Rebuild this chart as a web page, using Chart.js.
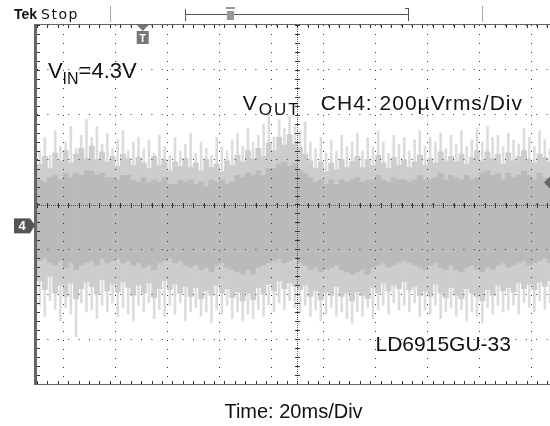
<!DOCTYPE html>
<html>
<head>
<meta charset="utf-8">
<script src="https://cdn.jsdelivr.net/npm/chart.js@4.4.0/dist/chart.umd.min.js"></script>
<style>
  html, body { margin: 0; padding: 0; background: #fff; }
  #wrap { width: 550px; height: 426px; }
</style>
</head>
<body>
<div id="wrap"><canvas id="scope"></canvas></div>
<script>
// column centres in ms (2 ms per column, 20 ms/div)
const timeMs = [
  1, 3, 5, 7, 9, 11, 13, 15, 17, 19,
  21, 23, 25, 27, 29, 31, 33, 35, 37, 39,
  41, 43, 45, 47, 49, 51, 53, 55, 57, 59,
  61, 63, 65, 67, 69, 71, 73, 75, 77, 79,
  81, 83, 85, 87, 89, 91, 93, 95, 97, 99,
  101, 103, 105, 107, 109, 111, 113, 115, 117, 119,
  121, 123, 125, 127, 129, 131, 133, 135, 137, 139,
  141, 143, 145, 147, 149, 151, 153, 155, 157, 159,
  161, 163, 165, 167, 169, 171, 173, 175, 177, 179,
  181, 183, 185, 187, 189, 191, 193, 195, 197
];

// noise envelope, uV (200 uV/div)
const peakHigh = [
  240, 300, 220, 330, 260, 280, 350, 250, 310, 380,
  300, 350, 270, 320, 250, 290, 330, 240, 280, 300,
  250, 290, 230, 310, 260, 220, 300, 240, 270, 320,
  230, 280, 250, 220, 300, 260, 240, 290, 320, 260,
  340, 280, 310, 360, 420, 300, 380, 340, 400, 350,
  330, 370, 280, 250, 300, 230, 290, 240, 310, 260,
  280, 320, 240, 300, 260, 330, 280, 230, 310, 270,
  300, 240, 290, 330, 260, 300, 280, 320, 250, 310,
  270, 330, 260, 290, 340, 280, 350, 300, 310, 260,
  320, 290, 270, 340, 300, 260, 330, 290, 250
];
const peakLow = [
  -450, -500, -430, -470, -520, -460, -490, -590, -440, -480,
  -470, -510, -450, -480, -440, -500, -460, -490, -520, -450,
  -480, -440, -510, -470, -500, -450, -490, -440, -520, -480,
  -460, -500, -480, -530, -470, -490, -450, -510, -480, -520,
  -490, -510, -470, -500, -450, -480, -440, -470, -430, -460,
  -480, -450, -500, -470, -520, -490, -460, -500, -480, -510,
  -530, -480, -500, -460, -510, -470, -450, -490, -440, -470,
  -450, -480, -440, -500, -470, -490, -450, -510, -480, -460,
  -500, -470, -520, -480, -500, -530, -460, -490, -450, -480,
  -470, -450, -490, -440, -460, -480, -430, -470, -440
];
const bandHigh = [
  180, 215, 160, 230, 195, 240, 185, 225, 250, 205,
  260, 200, 235, 190, 215, 170, 225, 205, 175, 210,
  185, 160, 215, 175, 200, 150, 190, 170, 205, 165,
  185, 150, 200, 165, 180, 145, 195, 175, 220, 190,
  240, 205, 250, 215, 275, 240, 300, 265, 310, 270,
  255, 225, 195, 160, 190, 145, 185, 155, 200, 165,
  190, 215, 165, 200, 175, 220, 185, 160, 210, 175,
  200, 165, 190, 220, 175, 205, 185, 235, 195, 215,
  190, 225, 180, 210, 240, 195, 235, 205, 225, 180,
  230, 195, 215, 240, 200, 185, 225, 210, 190
];
const bandLow = [
  -340, -380, -320, -395, -360, -410, -350, -420, -375, -345,
  -365, -400, -335, -385, -355, -390, -345, -370, -405, -360,
  -395, -350, -415, -375, -340, -380, -355, -395, -365, -410,
  -370, -420, -385, -405, -360, -395, -375, -415, -390, -430,
  -395, -425, -370, -400, -355, -385, -340, -375, -350, -365,
  -380, -360, -410, -385, -425, -390, -405, -365, -410, -395,
  -430, -390, -405, -420, -370, -395, -350, -385, -360, -375,
  -345, -380, -365, -405, -385, -410, -355, -395, -415, -370,
  -405, -420, -375, -395, -410, -430, -380, -405, -360, -385,
  -370, -390, -350, -375, -355, -380, -345, -365, -340
];
const coreHigh = [
  110, 100, 120, 130, 110, 140, 120, 140, 130, 150,
  150, 130, 140, 120, 120, 110, 130, 130, 110, 100,
  120, 100, 110, 100, 120, 90, 90, 110, 100, 110,
  90, 100, 80, 110, 100, 110, 90, 100, 130, 120,
  140, 130, 150, 130, 160, 160, 180, 190, 170, 180,
  150, 140, 120, 100, 110, 90, 110, 90, 110, 100,
  110, 120, 100, 110, 110, 130, 110, 100, 120, 110,
  110, 100, 110, 130, 110, 110, 120, 140, 110, 130,
  120, 110, 130, 110, 120, 140, 150, 130, 140, 110,
  140, 120, 130, 150, 130, 110, 140, 120, 110
];
const coreLow = [
  -250, -240, -260, -270, -250, -280, -260, -290, -270, -260,
  -250, -270, -240, -260, -250, -240, -260, -250, -270, -260,
  -280, -270, -290, -260, -250, -240, -260, -250, -270, -280,
  -270, -290, -280, -300, -270, -260, -280, -290, -300, -310,
  -290, -310, -280, -270, -260, -250, -240, -260, -250, -240,
  -260, -270, -290, -280, -300, -290, -280, -270, -290, -300,
  -310, -300, -290, -310, -280, -270, -260, -280, -270, -260,
  -250, -260, -270, -280, -290, -270, -260, -280, -290, -270,
  -290, -300, -280, -270, -290, -300, -280, -290, -270, -260,
  -280, -270, -260, -250, -270, -260, -250, -240, -260
];

// markers and notes (ms, uV)
const triggerMs = 40.6;
const ch4GroundUv = -93;
const trigLevelUv = 98;

const FONT = '"Liberation Sans", Arial, sans-serif';

function pairs(lo, hi) {
  return timeMs.map(function(t, i) {
    return { x: t, y: [lo[i], hi[i]] };
  });
}

const scopeDecor = {
  id: 'scope_decor',
  afterDraw: (chart) => {
    const ctx = chart.ctx;
    const area = chart.chartArea;
    const xs = chart.scales.x;
    const ys = chart.scales.y;
    const cx = Math.round(xs.getPixelForValue(100)) + 0.5;
    const cy = Math.round(ys.getPixelForValue(0)) + 0.5;
    const minorX = xs.getPixelForValue(4) - xs.getPixelForValue(0);
    const minorY = ys.getPixelForValue(0) - ys.getPixelForValue(40);
    ctx.save();

    // centre cross with minor ticks
    ctx.strokeStyle = '#555';
    ctx.lineWidth = 1;
    ctx.setLineDash([1, 1]);
    ctx.beginPath();
    ctx.moveTo(area.left, cy); ctx.lineTo(area.right, cy);
    ctx.moveTo(cx, area.top); ctx.lineTo(cx, area.bottom);
    ctx.stroke();
    ctx.setLineDash([]);
    ctx.strokeStyle = '#333';
    ctx.beginPath();
    for (let px = area.left; px <= area.right; px += minorX) {
      const p = Math.round(px) + 0.5;
      ctx.moveTo(p, cy - 2.5); ctx.lineTo(p, cy + 2.5);
      ctx.moveTo(p, area.top); ctx.lineTo(p, area.top + 3);
      ctx.moveTo(p, area.bottom); ctx.lineTo(p, area.bottom - 3);
    }
    for (let py = area.top; py <= area.bottom; py += minorY) {
      const p = Math.round(py) + 0.5;
      ctx.moveTo(cx - 2.5, p); ctx.lineTo(cx + 2.5, p);
      ctx.moveTo(area.left, p); ctx.lineTo(area.left + 3, p);
    }
    ctx.stroke();

    // frame
    ctx.strokeStyle = '#666';
    ctx.lineWidth = 1;
    ctx.beginPath();
    ctx.moveTo(area.left - 3, Math.round(area.top) - 0.5);
    ctx.lineTo(area.right, Math.round(area.top) - 0.5);
    ctx.moveTo(area.left - 3, Math.round(area.bottom) + 0.5);
    ctx.lineTo(area.right, Math.round(area.bottom) + 0.5);
    ctx.stroke();
    ctx.fillStyle = '#666';
    ctx.fillRect(area.left - 3, area.top - 1, 3, area.bottom - area.top + 2);

    // notes inside the graticule
    ctx.fillStyle = '#111';
    ctx.textBaseline = 'alphabetic';
    ctx.textAlign = 'left';
    let x = xs.getPixelForValue(4.2);
    let y = ys.getPixelForValue(564);
    ctx.font = '22px ' + FONT;
    ctx.fillText('V', x, y); x += ctx.measureText('V').width;
    ctx.font = '16px ' + FONT;
    ctx.fillText('IN', x, y + 6); x += ctx.measureText('IN').width;
    ctx.font = '22px ' + FONT;
    ctx.fillText('=4.3V', x, y);

    x = xs.getPixelForValue(79);
    y = ys.getPixelForValue(422);
    ctx.font = '21px ' + FONT;
    ctx.fillText('V', x, y); x += ctx.measureText('V').width + 2;
    ctx.font = '17px ' + FONT;
    ctx.letterSpacing = '2px';
    ctx.fillText('OUT', x, y + 5);
    x = xs.getPixelForValue(109);
    ctx.font = '21px ' + FONT;
    ctx.letterSpacing = '1px';
    ctx.fillText('CH4: 200\u00b5Vrms/Div', x, y);
    ctx.letterSpacing = '0px';

    ctx.font = '21px ' + FONT;
    ctx.fillText('LD6915GU-33', xs.getPixelForValue(130), ys.getPixelForValue(-653));

    // trigger position marker
    const tx = xs.getPixelForValue(triggerMs);
    ctx.fillStyle = '#777';
    ctx.beginPath();
    ctx.moveTo(tx - 6, area.top); ctx.lineTo(tx + 6, area.top); ctx.lineTo(tx, area.top + 6);
    ctx.fill();
    ctx.fillRect(tx - 6, area.top + 6, 12, 13);
    ctx.fillStyle = '#fff';
    ctx.font = 'bold 11px ' + FONT;
    ctx.textAlign = 'center';
    ctx.fillText('T', tx, area.top + 17);

    // channel 4 ground marker
    const gy = ys.getPixelForValue(ch4GroundUv);
    ctx.fillStyle = '#555';
    ctx.fillRect(area.left - 23, gy - 7, 16, 15);
    ctx.beginPath();
    ctx.moveTo(area.left - 7, gy - 7); ctx.lineTo(area.left - 2, gy); ctx.lineTo(area.left - 7, gy + 8);
    ctx.fill();
    ctx.fillStyle = '#fff';
    ctx.font = 'bold 13px ' + FONT;
    ctx.fillText('4', area.left - 15, gy + 5);

    // trigger level marker on the right edge
    const ly = ys.getPixelForValue(trigLevelUv);
    ctx.fillStyle = '#666';
    ctx.beginPath();
    ctx.moveTo(area.right - 6, ly); ctx.lineTo(area.right, ly - 6); ctx.lineTo(area.right, ly + 6);
    ctx.fill();

    // header
    ctx.textAlign = 'left';
    ctx.fillStyle = '#111';
    ctx.font = 'bold 14px ' + FONT;
    ctx.fillText('Tek', 14, 19);
    ctx.font = '14px "DejaVu Sans", sans-serif';
    ctx.letterSpacing = '1.5px';
    ctx.fillText('Stop', 41, 19);
    ctx.letterSpacing = '0px';
    ctx.strokeStyle = '#aaa';
    ctx.beginPath();
    ctx.moveTo(110.5, 6); ctx.lineTo(110.5, 22);
    ctx.moveTo(482.5, 6); ctx.lineTo(482.5, 22);
    ctx.stroke();
    ctx.strokeStyle = '#555';
    ctx.beginPath();
    ctx.moveTo(185.5, 9); ctx.lineTo(185.5, 21);
    ctx.moveTo(185.5, 14.5); ctx.lineTo(408.5, 14.5);
    ctx.moveTo(408.5, 8); ctx.lineTo(408.5, 21);
    ctx.moveTo(405, 8.5); ctx.lineTo(408.5, 8.5);
    ctx.stroke();
    ctx.fillStyle = '#999';
    ctx.fillRect(227, 11, 7, 9);
    ctx.fillRect(226, 7, 9, 2);
    ctx.restore();
  }
};

const scopeChart = {
  type: 'bar',
  plugins: [scopeDecor],
  data: {
    datasets: [
      {
        label: 'core',
        data: pairs(coreLow, coreHigh),
        backgroundColor: '#bababa',
        order: 1,
        barPercentage: 1,
        categoryPercentage: 1
      },
      {
        label: 'band',
        data: pairs(bandLow, bandHigh),
        backgroundColor: '#cdcdcd',
        order: 2,
        barPercentage: 1,
        categoryPercentage: 1
      },
      {
        label: 'peaks',
        data: pairs(peakLow, peakHigh),
        backgroundColor: '#dcdcdc',
        order: 3,
        barPercentage: 0.5,
        categoryPercentage: 1
      }
    ]
  },
  options: {
    animation: false,
    responsive: true,
    maintainAspectRatio: false,
    devicePixelRatio: 1,
    layout: { padding: { left: 37, top: 25, right: 0, bottom: 0 } },
    datasets: { bar: { grouped: false } },
    plugins: {
      legend: { display: false },
      tooltip: { enabled: false }
    },
    scales: {
      x: {
        type: 'linear',
        min: 0,
        max: 197,
        offset: false,
        ticks: { display: false, stepSize: 20, includeBounds: false },
        grid: { color: '#333', lineWidth: 1, drawTicks: false, z: 1 },
        border: { display: false, dash: [1, 8] },
        title: {
          display: true,
          text: 'Time: 20ms/Div',
          color: '#111',
          font: { family: FONT, size: 20 },
          padding: { top: 16, bottom: 2 }
        }
      },
      y: {
        min: -800,
        max: 800,
        ticks: { display: false, stepSize: 200 },
        grid: { color: '#333', lineWidth: 1, drawTicks: false, z: 1 },
        border: { display: false, dash: [1, 9.4] }
      }
    }
  }
};

const canvas = document.getElementById('scope');
const chart = new Chart(canvas.getContext('2d'), scopeChart);
</script>
</body>
</html>
